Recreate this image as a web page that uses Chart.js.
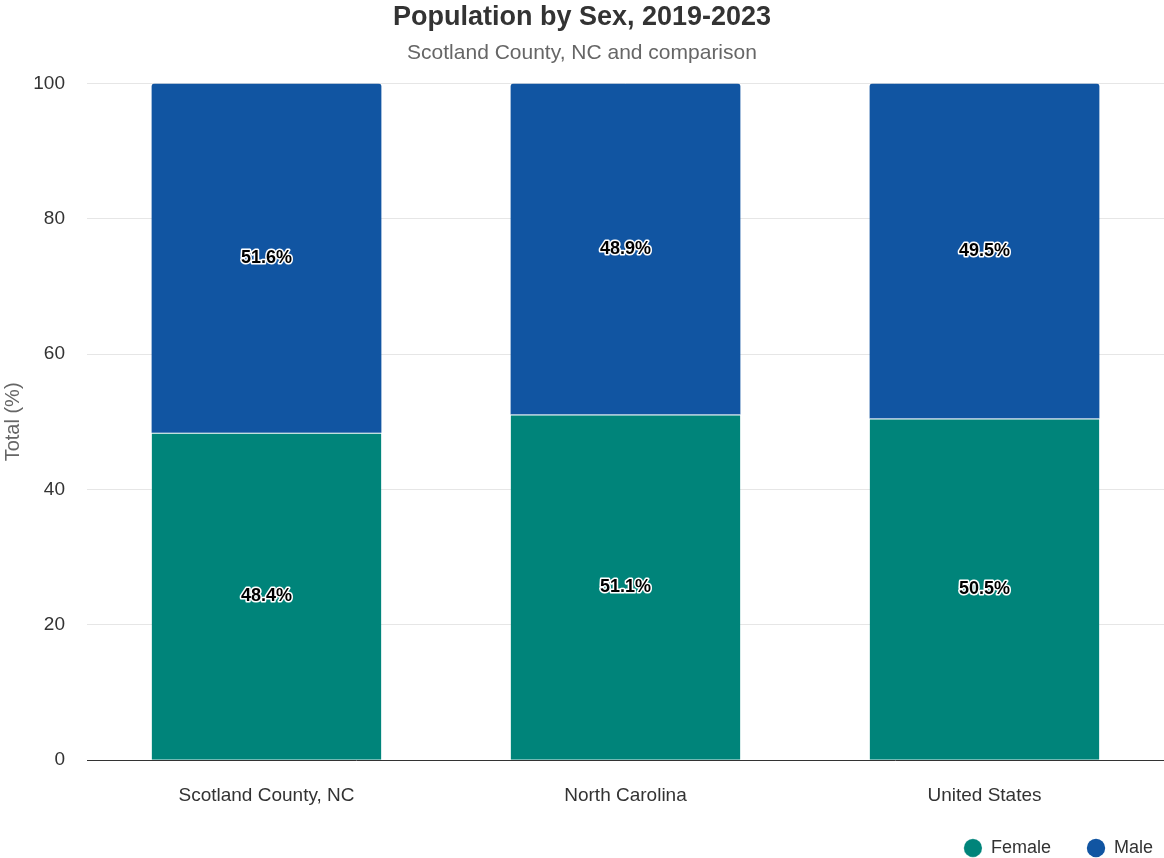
<!DOCTYPE html>
<html>
<head>
<meta charset="utf-8">
<script src="https://cdn.jsdelivr.net/npm/chart.js@4"></script>
<style>
  html, body { margin: 0; padding: 0; background: #fff; }
  #wrap { width: 1164px; height: 858px; }
</style>
</head>
<body>
<div id="wrap"><canvas id="c" width="1164" height="858"></canvas></div>
<script>
const categories = ['Scotland County, NC', 'North Carolina', 'United States'];
const femaleValues = [48.4, 51.1, 50.5];
const maleValues = [51.6, 48.9, 49.5];
const yTicks = [0, 20, 40, 60, 80, 100];

const FONT = "'Liberation Sans', Arial, sans-serif";

// Draws each segment's percentage at its vertical middle, white halo behind black text
const segmentLabels = {
  id: 'segmentLabels',
  afterDatasetsDraw(chart) {
    const ctx = chart.ctx;
    ctx.save();
    ctx.font = 'bold 18px ' + FONT;
    ctx.textAlign = 'center';
    ctx.textBaseline = 'middle';
    ctx.lineJoin = 'round';
    chart.data.datasets.forEach((ds, i) => {
      const meta = chart.getDatasetMeta(i);
      meta.data.forEach((bar, j) => {
        const text = ds.data[j].toFixed(1) + '%';
        const y = (bar.y + bar.base) / 2;
        ctx.lineWidth = 3;
        ctx.strokeStyle = '#ffffff';
        ctx.strokeText(text, bar.x, y);
        ctx.fillStyle = '#000000';
        ctx.fillText(text, bar.x, y);
      });
    });
    ctx.restore();
  }
};

// Moves the legend row a little lower, near the bottom edge of the canvas
const legendOffset = {
  id: 'legendOffset',
  afterLayout(chart) {
    const lg = chart.legend;
    if (lg) { lg.top += 5; lg.bottom += 5; }
  }
};

new Chart(document.getElementById('c'), {
  type: 'bar',
  data: {
    labels: categories,
    datasets: [
      {
        label: 'Female',
        data: femaleValues,
        backgroundColor: '#00847a',
        borderColor: '#ffffff',
        borderWidth: { top: 1, left: 0, right: 0, bottom: 0 },
        borderSkipped: false
      },
      {
        label: 'Male',
        data: maleValues,
        backgroundColor: '#1155a2',
        borderWidth: 0,
        borderRadius: { topLeft: 3, topRight: 3, bottomLeft: 0, bottomRight: 0 },
        borderSkipped: false
      }
    ]
  },
  options: {
    responsive: false,
    animation: false,
    layout: { padding: { left: 0, right: 0, top: 0, bottom: -4 } },
    datasets: { bar: { categoryPercentage: 1, barPercentage: 0.64 } },
    plugins: {
      title: {
        display: true,
        text: 'Population by Sex, 2019-2023',
        color: '#333333',
        font: { family: FONT, size: 27, weight: 'bold' },
        padding: { top: 1, bottom: 3 }
      },
      subtitle: {
        display: true,
        text: 'Scotland County, NC and comparison',
        color: '#666666',
        font: { family: FONT, size: 21 },
        padding: { top: 4, bottom: 18 }
      },
      legend: {
        position: 'bottom',
        align: 'end',
        labels: {
          usePointStyle: true,
          pointStyle: 'circle',
          boxWidth: 18,
          boxHeight: 13,
          padding: 11,
          color: '#333333',
          font: { family: FONT, size: 18 },
          generateLabels(chart) {
            const items = Chart.defaults.plugins.legend.labels.generateLabels(chart);
            items.forEach((it, i) => {
              if (i < items.length - 1) it.text = it.text + '     ';
            });
            return items;
          }
        }
      },
      tooltip: { enabled: false }
    },
    scales: {
      x: {
        stacked: true,
        grid: { display: false },
        border: { display: true, color: '#333333', width: 1 },
        ticks: { color: '#333333', font: { family: FONT, size: 19 }, padding: 16 }
      },
      y: {
        stacked: true,
        min: 0,
        max: 100,
        afterBuildTicks(scale) { scale.ticks = yTicks.map(v => ({ value: v })); },
        grid: { color: '#e6e6e6', drawTicks: false },
        border: { display: false },
        ticks: { color: '#333333', font: { family: FONT, size: 19 }, padding: 22 },
        title: {
          display: true,
          text: 'Total (%)',
          color: '#666666',
          font: { family: FONT, size: 20 },
          padding: { top: 1, bottom: 6 }
        },
        afterFit(scale) { scale.width = 87; }
      }
    }
  },
  plugins: [segmentLabels, legendOffset]
});
</script>
</body>
</html>
